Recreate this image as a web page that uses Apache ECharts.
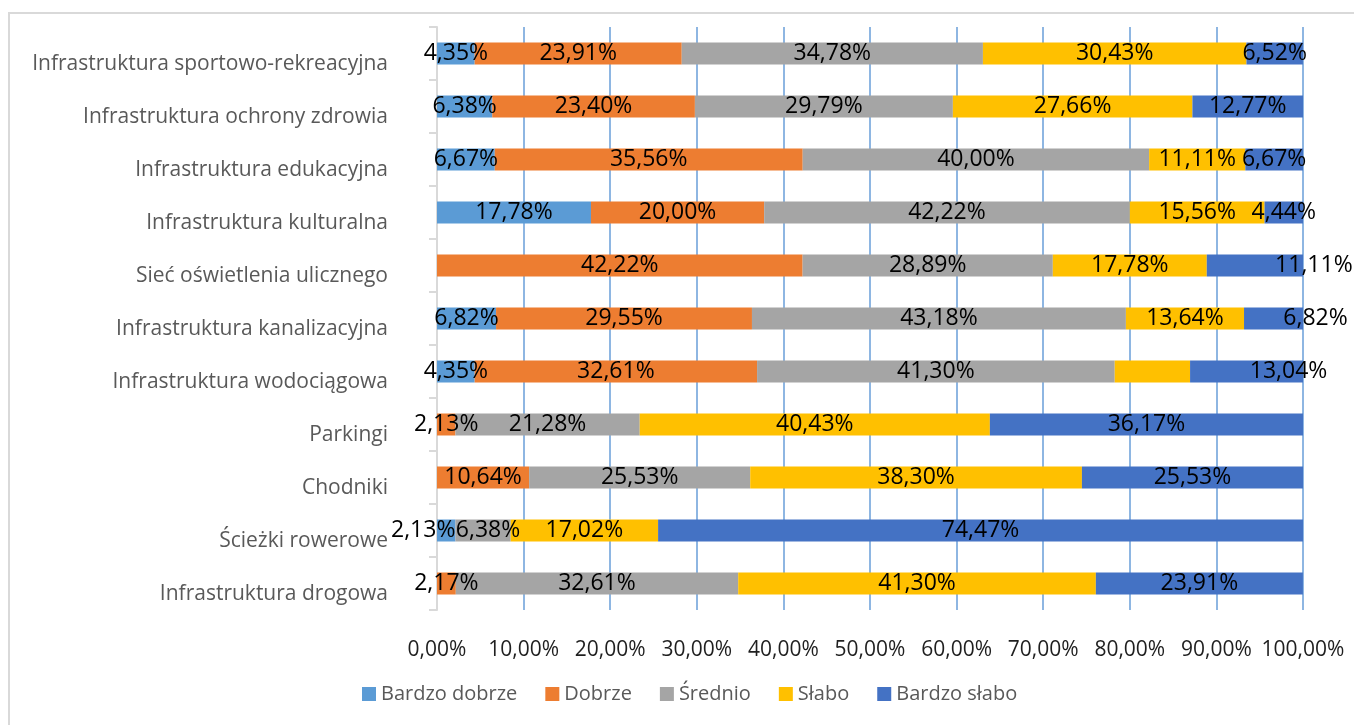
<!DOCTYPE html>
<html>
<head>
<meta charset="utf-8">
<script src="https://cdn.jsdelivr.net/npm/echarts@6/dist/echarts.min.js"></script>
<style>
    html, body { margin: 0; padding: 0; background: #fff; }
    #chart { width: 1354px; height: 725px; }
</style>
</head>
<body>
<div id="chart"></div>
<script>
// kategorie od góry do dołu
const categories = [
    'Infrastruktura sportowo-rekreacyjna',
    'Infrastruktura ochrony zdrowia',
    'Infrastruktura edukacyjna',
    'Infrastruktura kulturalna',
    'Sieć oświetlenia ulicznego',
    'Infrastruktura kanalizacyjna',
    'Infrastruktura wodociągowa',
    'Parkingi',
    'Chodniki',
    'Ścieżki rowerowe',
    'Infrastruktura drogowa'
];

const seriesNames = ['Bardzo dobrze', 'Dobrze', 'Średnio', 'Słabo', 'Bardzo słabo'];

const bardzoDobrze = [4.35, 6.38, 6.67, 17.78, 0, 6.82, 4.35, 0, 0, 2.13, 0];
const dobrze       = [23.91, 23.40, 35.56, 20.00, 42.22, 29.55, 32.61, 2.13, 10.64, 0, 2.17];
const srednio      = [34.78, 29.79, 40.00, 42.22, 28.89, 43.18, 41.30, 21.28, 25.53, 6.38, 32.61];
const slabo        = [30.43, 27.66, 11.11, 15.56, 17.78, 13.64, 8.70, 40.43, 38.30, 17.02, 41.30];
const bardzoSlabo  = [6.52, 12.77, 6.67, 4.44, 11.11, 6.82, 13.04, 36.17, 25.53, 74.47, 23.91];

const xTicks = [0, 10, 20, 30, 40, 50, 60, 70, 80, 90, 100];

// etykiety ukryte w oryginale: [seria, kategoria]
const hiddenLabels = [[3, 6]];

const colors = ['#5B9BD5', '#ED7D31', '#A5A5A5', '#FFC000', '#4472C4'];

// etykiety przesunięte ręcznie w oryginale: [seria, kategoria, dx]
const labelNudges = [[4, 4, 59], [4, 5, 42], [4, 6, 42], [0, 9, -23], [2, 9, 5]];

const FONT = 'Open Sans';

function fmt(v) {
    return v.toFixed(2).replace('.', ',') + '%';
}

function buildData(values, sIdx) {
    return values.map((v, cIdx) => {
        const item = { value: v };
        const hidden = v === 0 || hiddenLabels.some(h => h[0] === sIdx && h[1] === cIdx);
        if (hidden) {
            item.label = { show: false };
        }
        return item;
    });
}

const allValues = [bardzoDobrze, dobrze, srednio, slabo, bardzoSlabo];

const chart = echarts.init(document.getElementById('chart'));

const option = {
    backgroundColor: '#fff',
    animation: false,
    color: colors,
    graphic: [{
        type: 'rect',
        silent: true,
        z: -1,
        shape: { x: 9, y: 13, width: 1500, height: 900 },
        style: { fill: 'none', stroke: '#D9D9D9', lineWidth: 2 }
    }],
    grid: {
        left: 437,
        right: 51,
        top: 27,
        bottom: 115
    },
    legend: {
        data: seriesNames,
        left: 357,
        top: 679,
        icon: 'rect',
        itemWidth: 14,
        itemHeight: 14,
        itemGap: 28,
        textStyle: {
            fontFamily: FONT,
            fontSize: 20,
            color: '#595959'
        }
    },
    xAxis: {
        type: 'value',
        min: 0,
        max: 100,
        interval: 10,
        z: 0,
        axisLine: { show: false },
        axisTick: { show: false },
        splitLine: {
            show: true,
            lineStyle: { color: '#8EB6E2', width: 2 }
        },
        axisLabel: {
            fontFamily: FONT,
            fontSize: 21,
            color: '#1F1F1F',
            margin: 30,
            formatter: v => xTicks.includes(v) ? fmt(v) : ''
        }
    },
    yAxis: {
        type: 'category',
        data: categories,
        inverse: true,
        z: 1,
        axisLine: {
            show: true,
            lineStyle: { color: '#D9D9D9', width: 2 }
        },
        axisTick: {
            show: true,
            length: 8,
            lineStyle: { color: '#D9D9D9', width: 2 }
        },
        axisLabel: {
            fontFamily: FONT,
            fontSize: 21,
            color: '#595959',
            margin: 49,
            verticalAlign: 'top'
        }
    },
    series: allValues.map((vals, i) => ({
        name: seriesNames[i],
        type: 'bar',
        stack: 'total',
        barWidth: 22,
        z: 2,
        data: buildData(vals, i),
        label: {
            show: true,
            position: 'inside',
            fontFamily: FONT,
            fontSize: 23,
            color: '#000',
            formatter: p => fmt(p.value)
        },
        labelLayout: function (p) {
            const nudge = labelNudges.find(n => n[0] === p.seriesIndex && n[1] === p.dataIndex);
            return { hideOverlap: false, dx: nudge ? nudge[2] : 0 };
        }
    }))
};

chart.setOption(option);
</script>
</body>
</html>
